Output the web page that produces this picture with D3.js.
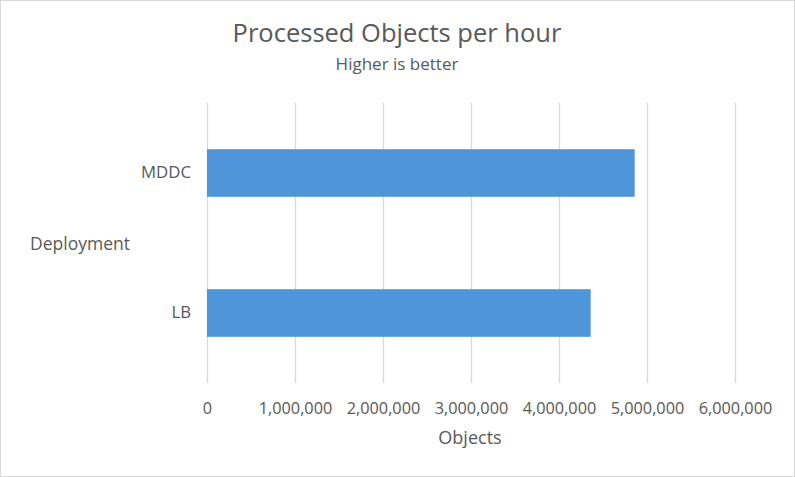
<!DOCTYPE html>
<html><head><meta charset="utf-8">
<script src="https://cdn.jsdelivr.net/npm/d3@7"></script>
<style>body{margin:0;background:#fff;}svg{display:block;font-family:"Open Sans",sans-serif;}</style>
</head><body>
<svg id="c" width="795" height="477"></svg>
<script>
const categories = ["MDDC", "LB"];
const values = [4860000, 4360000];
const xTicks = [0, 1000000, 2000000, 3000000, 4000000, 5000000, 6000000];
const title = "Processed Objects per hour";
const subtitle = "Higher is better";
const xTitle = "Objects";
const yTitle = "Deployment";

const svg = d3.select("#c");
const W = 795, H = 477;
const m = {left:207, right:60, top:103, bottom:94};
const textColor = "#595959";

svg.append("rect").attr("x",0.5).attr("y",0.5).attr("width",W-1).attr("height",H-1)
  .attr("fill","#fff").attr("stroke","#d9d9d9");

const x = d3.scaleLinear().domain([0, 6000000]).range([m.left, 735]);
const y = d3.scaleBand().domain(categories).range([m.top, H-m.bottom]).paddingInner(0.66).paddingOuter(0.33);

const xAxis = d3.axisBottom(x).tickValues(xTicks).tickFormat(d3.format(",")).tickSize(-(H-m.bottom-m.top)).tickPadding(19);
const gx = svg.append("g").attr("transform",`translate(0,${H-m.bottom})`).call(xAxis);
gx.select(".domain").remove();
gx.selectAll(".tick line").attr("stroke","#d9d9d9").attr("stroke-width",1.3);
gx.selectAll(".tick text").attr("fill",textColor).attr("font-size",16.3).attr("font-family","'Open Sans',sans-serif");

svg.append("g").selectAll("rect").data(categories).join("rect")
  .attr("x", x(0)).attr("y", d=>y(d)).attr("height", y.bandwidth())
  .attr("width", (d,i)=>x(values[i])-x(0)).attr("fill","#4e95d9");

const yAxis = d3.axisLeft(y).tickSize(0).tickPadding(14);
const gy = svg.append("g").attr("transform",`translate(${m.left-2},0)`).call(yAxis);
gy.select(".domain").remove();
gy.selectAll(".tick text").attr("fill",textColor).attr("font-size",16.8).attr("font-family","'Open Sans',sans-serif");

svg.append("text").attr("x",397).attr("y",42).attr("text-anchor","middle")
  .attr("fill",textColor).attr("font-size",25.5).text(title);
svg.append("text").attr("x",397).attr("y",70).attr("text-anchor","middle")
  .attr("fill",textColor).attr("font-size",17).text(subtitle);
svg.append("text").attr("x",470).attr("y",444).attr("text-anchor","middle")
  .attr("fill",textColor).attr("font-size",18).text(xTitle);
svg.append("text").attr("x",30).attr("y",250).attr("text-anchor","start")
  .attr("fill",textColor).attr("font-size",17.5).text(yTitle);
</script>
</body></html>
